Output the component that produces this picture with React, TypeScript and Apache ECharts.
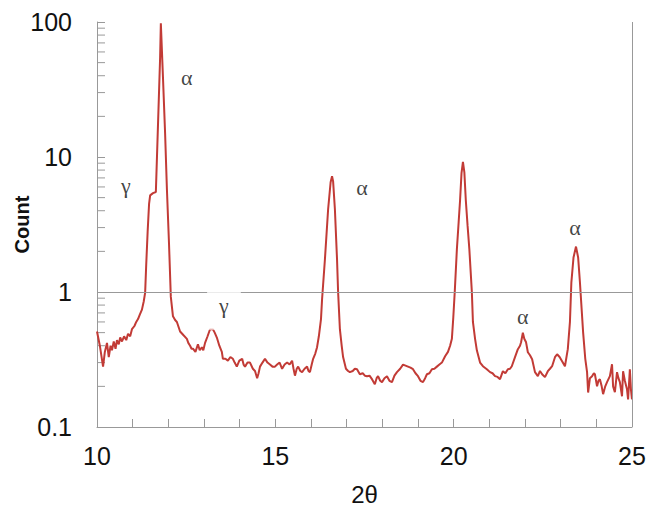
import React, { useEffect, useRef } from "react";
import * as echarts from "echarts";

const twoTheta = [
  10.0, 10.08, 10.17, 10.22, 10.28, 10.33, 10.38, 10.42, 10.47, 10.52,
  10.56, 10.61, 10.65, 10.7, 10.76, 10.82, 10.87, 10.93, 10.98, 11.05,
  11.1, 11.15, 11.2, 11.26, 11.31, 11.35, 11.38, 11.42, 11.46, 11.49,
  11.57, 11.65, 11.71, 11.77, 11.79, 11.85, 11.91, 11.96, 12.02, 12.07,
  12.13, 12.19, 12.24, 12.33, 12.42, 12.52, 12.56, 12.61, 12.65, 12.69,
  12.76, 12.83, 12.88, 12.94, 12.98, 13.03, 13.1, 13.17, 13.25, 13.3,
  13.36, 13.43, 13.5, 13.53, 13.6, 13.67, 13.74, 13.81, 13.86, 13.92,
  13.99, 14.07, 14.11, 14.15, 14.22, 14.29, 14.37, 14.43, 14.49, 14.53,
  14.57, 14.64, 14.71, 14.78, 14.85, 14.92, 14.99, 15.05, 15.12, 15.19,
  15.26, 15.33, 15.4, 15.47, 15.51, 15.55, 15.6, 15.64, 15.7, 15.75,
  15.82, 15.89, 15.93, 15.97, 16.02, 16.06, 16.12, 16.17, 16.22, 16.28,
  16.31, 16.39, 16.48, 16.55, 16.59, 16.62, 16.67, 16.73, 16.76, 16.81,
  16.86, 16.9, 16.98, 17.04, 17.09, 17.17, 17.23, 17.29, 17.37, 17.45,
  17.51, 17.57, 17.64, 17.71, 17.79, 17.84, 17.88, 17.94, 17.99, 18.06,
  18.13, 18.2, 18.27, 18.34, 18.41, 18.5, 18.58, 18.65, 18.72, 18.79,
  18.86, 18.93, 19.0, 19.07, 19.14, 19.2, 19.25, 19.32, 19.39, 19.46,
  19.53, 19.6, 19.67, 19.76, 19.84, 19.9, 19.95, 19.99, 20.03, 20.09,
  20.14, 20.18, 20.22, 20.26, 20.3, 20.34, 20.39, 20.44, 20.51, 20.54,
  20.6, 20.65, 20.74, 20.82,
  20.93, 21.02, 21.09, 21.16, 21.23, 21.3, 21.38, 21.45, 21.52, 21.58,
  21.63, 21.72, 21.8, 21.86, 21.89, 21.94, 21.98, 22.03, 22.08, 22.14,
  22.2, 22.28, 22.36, 22.42, 22.48, 22.56, 22.64, 22.7, 22.76, 22.84,
  22.9, 22.97, 23.04, 23.12, 23.2, 23.26, 23.3, 23.36, 23.43, 23.49,
  23.54, 23.63, 23.69, 23.74, 23.77, 23.82, 23.88, 23.93, 23.96, 24.02,
  24.06, 24.1, 24.15, 24.19, 24.25, 24.3, 24.38, 24.44, 24.47, 24.52,
  24.58, 24.62, 24.66, 24.72, 24.75, 24.8, 24.86, 24.89, 24.94, 24.97,
  25.0,
];

const counts = [
  0.51, 0.4, 0.28, 0.36, 0.42, 0.33, 0.4, 0.37, 0.43, 0.38,
  0.44, 0.41, 0.46, 0.43, 0.47, 0.44, 0.49, 0.47, 0.53, 0.56,
  0.6, 0.63, 0.68, 0.74, 0.85, 0.99, 1.6, 2.8, 4.5, 5.2,
  5.4, 5.5, 17.3, 55, 98, 38.6, 14.8, 5.8, 2.24, 0.92,
  0.66, 0.62, 0.6, 0.51, 0.48, 0.45, 0.42, 0.4, 0.38, 0.38,
  0.36, 0.41, 0.37, 0.39, 0.37, 0.42, 0.47, 0.53, 0.53, 0.5,
  0.46, 0.4, 0.36, 0.32, 0.32, 0.31, 0.33, 0.32, 0.3, 0.28,
  0.31, 0.32, 0.29, 0.28, 0.3, 0.3, 0.27, 0.26, 0.23, 0.25,
  0.28, 0.3, 0.32, 0.3, 0.29, 0.28, 0.28, 0.29, 0.3, 0.27,
  0.29, 0.3, 0.29, 0.31, 0.27, 0.24, 0.27, 0.28, 0.26, 0.255,
  0.27, 0.28, 0.26, 0.255, 0.29, 0.32, 0.35, 0.39, 0.47, 0.63,
  0.88, 1.74, 4.1, 6.5, 7.2, 6.6, 4.1, 1.74, 1.0, 0.53,
  0.4, 0.33, 0.27, 0.26, 0.255, 0.26, 0.27, 0.268, 0.246, 0.25,
  0.24, 0.238, 0.24, 0.226, 0.207, 0.23, 0.238, 0.22, 0.215, 0.23,
  0.238, 0.22, 0.215, 0.24, 0.255, 0.27, 0.29, 0.285, 0.28, 0.275,
  0.268, 0.25, 0.238, 0.22, 0.215, 0.23, 0.246, 0.25, 0.268, 0.27,
  0.28, 0.29, 0.3, 0.334, 0.36, 0.4, 0.45, 0.65, 1.0, 2.07,
  3.3, 4.8, 7.6, 9.2, 7.7, 4.8, 3.1, 2.07, 1.0, 0.6,
  0.45, 0.37, 0.3, 0.282,
  0.268, 0.255, 0.25, 0.238, 0.235, 0.226, 0.259, 0.25, 0.268, 0.27,
  0.282, 0.329, 0.377, 0.4, 0.424, 0.5, 0.45, 0.424, 0.358, 0.34,
  0.318, 0.255, 0.238, 0.26, 0.246, 0.234, 0.259, 0.27, 0.282, 0.329,
  0.346, 0.33, 0.307, 0.282, 0.377, 0.6, 1.18, 1.8, 2.17, 1.8,
  1.18, 0.5, 0.32, 0.255, 0.18, 0.23, 0.238, 0.25, 0.246, 0.2,
  0.22, 0.226, 0.2, 0.175, 0.2, 0.215, 0.238, 0.292, 0.2, 0.181,
  0.255, 0.23, 0.215, 0.169, 0.259, 0.22, 0.19, 0.16, 0.268, 0.19,
  0.16,
];

const yMinorTicks = [
  0.2, 0.3, 0.4, 0.5, 0.6, 0.7, 0.8, 0.9,
  2, 3, 4, 5, 6, 7, 8, 9,
  20, 30, 40, 50, 60, 70, 80, 90,
];

const annotText = ["α", "γ", "γ", "α", "α", "α"];
const annotX = [12.52, 10.81, 13.56, 17.43, 21.94, 23.4];
const annotY = [39, 6.2, 0.79, 5.9, 0.66, 3.03];

const SANS = "'Liberation Sans', Arial, sans-serif";
const SERIF = "'Liberation Serif', 'DejaVu Serif', serif";

export default function App() {
  const ref = useRef<HTMLDivElement>(null);

  useEffect(() => {
    const chart = echarts.init(ref.current!, null, { renderer: "svg" });
    const lineData = twoTheta.map((x, i) => [x, counts[i]]);
    const annotData = annotText.map((t, i) => ({
      name: t,
      value: [annotX[i], annotY[i]],
      label:
        i === 2
          ? { backgroundColor: "#ffffff", padding: [13, 12, 13, 12] }
          : {},
    }));

    const option: any = {
      animation: false,
      backgroundColor: "#ffffff",
      grid: {
        left: 97,
        right: 26,
        top: 22,
        bottom: 85,
        containLabel: false,
        outerBoundsMode: "none",
      },
      xAxis: {
        type: "value",
        min: 10,
        max: 25,
        interval: 1,
        name: "2θ",
        nameLocation: "middle",
        nameGap: 55,
        nameMoveOverlap: false,
        nameTextStyle: { fontSize: 24, color: "#111", fontFamily: SANS },
        axisLine: { show: true, lineStyle: { color: "#999", width: 1 } },
        axisTick: {
          show: true,
          inside: true,
          length: 8,
          lineStyle: { color: "#999" },
        },
        axisLabel: {
          formatter: (v: number) =>
            Math.round(v) % 5 === 0 ? String(Math.round(v)) : "",
          fontSize: 25,
          color: "#111",
          fontFamily: SANS,
          margin: 16,
          showMinLabel: true,
          showMaxLabel: true,
        },
        splitLine: { show: false },
      },
      yAxis: {
        type: "log",
        logBase: 10,
        min: 0.1,
        max: 100,
        name: "Count",
        nameLocation: "middle",
        nameGap: 65,
        nameMoveOverlap: false,
        nameTextStyle: {
          fontSize: 20,
          fontWeight: "bold",
          color: "#111",
          fontFamily: SANS,
        },
        axisLine: { show: true, lineStyle: { color: "#999", width: 1 } },
        axisTick: {
          show: true,
          inside: true,
          length: 8,
          lineStyle: { color: "#999" },
        },
        axisLabel: {
          formatter: (v: number) =>
            v < 1 ? Number(v).toFixed(1) : String(Math.round(v)),
          fontSize: 25,
          color: "#111",
          fontFamily: SANS,
          margin: 25,
        },
        splitLine: { show: false },
      },
      series: [
        {
          type: "custom",
          silent: true,
          z: 1,
          clip: false,
          data: yMinorTicks.map((v) => [10, v]),
          renderItem: (params: any, api: any) => {
            const p = api.coord([api.value(0), api.value(1)]);
            return {
              type: "line",
              shape: { x1: p[0], y1: p[1], x2: p[0] + 8, y2: p[1] },
              style: { stroke: "#999", lineWidth: 1 },
            };
          },
        },
        {
          type: "line",
          z: 2,
          data: lineData,
          showSymbol: false,
          symbol: "none",
          smooth: false,
          lineStyle: { color: "#c23b36", width: 2 },
          markLine: {
            silent: true,
            symbol: ["none", "none"],
            label: { show: false },
            lineStyle: { color: "#999", type: "solid", width: 1 },
            data: [{ yAxis: 1 }, { xAxis: 25 }],
          },
        },
        {
          type: "scatter",
          z: 5,
          silent: true,
          symbolSize: 1,
          itemStyle: { color: "rgba(0,0,0,0)" },
          data: annotData,
          label: {
            show: true,
            position: "inside",
            formatter: (p: any) => p.name,
            fontSize: 22,
            color: "#111",
            fontFamily: SERIF,
          },
        },
      ],
    };

    chart.setOption(option);
    return () => chart.dispose();
  }, []);

  return (
    <div
      ref={ref}
      style={{
        position: "fixed",
        left: 0,
        top: 0,
        width: 658,
        height: 512,
        background: "#fff",
      }}
    />
  );
}
